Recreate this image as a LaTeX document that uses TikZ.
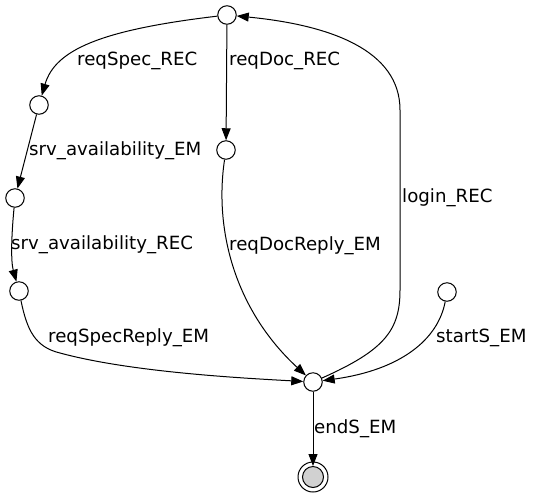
\documentclass[tikz,border=0pt]{standalone}
\usepackage{fontspec}
\setmainfont{DejaVu Sans}
\usetikzlibrary{arrows.meta}
\begin{document}
\begin{tikzpicture}[x=1pt,y=-1pt,
  state/.style={circle,draw,line width=1pt,minimum size=18.5pt,inner sep=0pt,fill=white},
  edge/.style={line width=1pt,-{Triangle[length=12pt,width=9pt]}},
  lbl/.style={anchor=base west,inner sep=0pt,font=\fontsize{18.2}{21}\selectfont}]
\useasboundingbox (0,0) rectangle (535,499);
\node[state] (T) at (227,15) {};
\node[state] (A) at (39,105) {};
\node[state] (D) at (226,150) {};
\node[state] (B) at (15,198) {};
\node[state] (C) at (19,291) {};
\node[state] (H) at (313,382) {};
\node[state] (S) at (447,292) {};
\node[circle,draw,line width=1pt,minimum size=30pt,inner sep=0pt] (F) at (313,477) {};
\node[circle,draw,line width=1pt,fill=black!18,minimum size=21pt,inner sep=0pt] (Fi) at (F) {};

\draw[edge] (T) .. controls (100,30) and (55,50) .. (A);
\draw[edge] (T) -- (D);
\draw[edge] (A) -- (B);
\draw[edge] (B) .. controls (11,240) and (11,262) .. (C);
\draw[edge] (C) .. controls (27,330) and (35,347) .. (60,353)
  .. controls (130,372) and (240,378) .. (H);
\draw[edge] (D) .. controls (214,230) and (235,310) .. (H);
\draw[edge] (H) .. controls (385,350) and (400,330) .. (400,290)
  -- (400,110) .. controls (400,50) and (330,25) .. (T);
\draw[edge] (S) .. controls (438,340) and (400,370) .. (H);
\draw[edge] (H) -- (Fi);

\node[lbl] (l1) at (77,65) {reqSpec\_REC};
\node[lbl] (l2) at (229,65) {reqDoc\_REC};
\node[lbl] (l3) at (29,155) {srv\_availability\_EM};
\node[lbl] (l4) at (11,249) {srv\_availability\_REC};
\node[lbl] (l5) at (48,342) {reqSpecReply\_EM};
\node[lbl] (l6) at (229,250) {reqDocReply\_EM};
\node[lbl] (l7) at (402,202) {login\_REC};
\node[lbl] (l8) at (436,342) {startS\_EM};
\node[lbl] (l9) at (314,433) {endS\_EM};
\end{tikzpicture}
\end{document}
